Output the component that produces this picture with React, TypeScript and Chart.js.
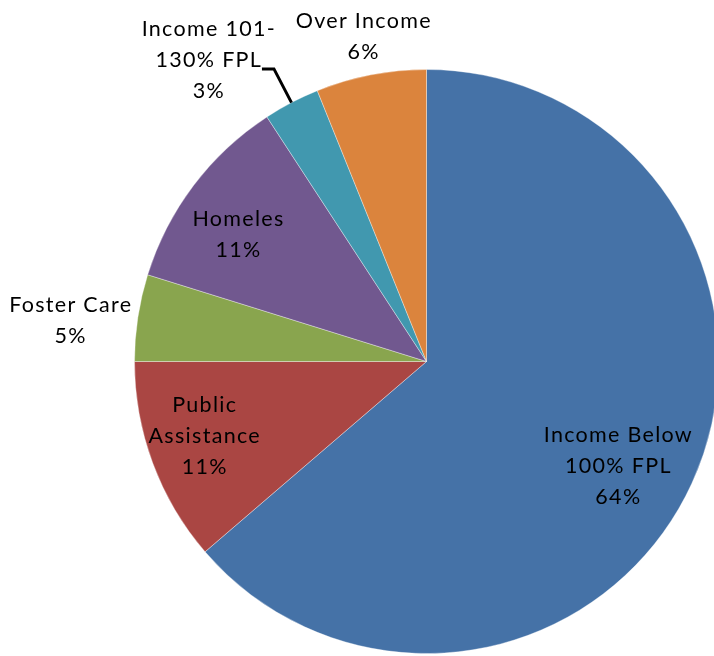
import React, { useEffect, useRef } from "react";
import { Chart, registerables } from "chart.js";

Chart.register(...registerables);

const categories: string[][] = [
  ["Income Below", "100% FPL"],
  ["Public", "Assistance"],
  ["Foster Care"],
  ["Homeles"],
  ["Income 101-", "130% FPL"],
  ["Over Income"],
];
const shares: number[] = [63.7, 11.3, 4.8, 11.0, 3.1, 6.1];
const colors: string[] = ["#4572A7", "#AA4643", "#89A54E", "#71588F", "#4198AF", "#DB843D"];

// label placement: angle (deg clockwise from top) and radius factor
const labelPlacement = [
  { a: 118.8, r: 0.746 },
  { a: 251.4, r: 0.805 },
  { a: 276.6, r: 1.23 },
  { a: 303.9, r: 0.78 },
  { a: 324.0, r: 1.274 },
  { a: 348.9, r: 1.134 },
];
const leaderIndex = 4;

const labelPlugin = {
  id: "pieLabels",
  afterDraw(chart: any) {
    const ctx = chart.ctx as CanvasRenderingContext2D;
    const meta = chart.getDatasetMeta(0);
    const first = meta.data[0];
    if (!first) return;
    const { x: cx, y: cy, outerRadius: R } = first.getProps(["x", "y", "outerRadius"], true);
    const total = shares.reduce((s, v) => s + v, 0);
    ctx.save();
    ctx.font = '21.5px Lato, "Open Sans", sans-serif';
    (ctx as any).letterSpacing = "1.3px";
    ctx.fillStyle = "#000";
    ctx.textAlign = "center";
    ctx.textBaseline = "middle";
    const lh = 31;
    categories.forEach((lines, i) => {
      const p = labelPlacement[i];
      const rad = (p.a * Math.PI) / 180;
      const x = cx + Math.sin(rad) * R * p.r;
      const y = cy - Math.cos(rad) * R * p.r;
      const all = [...lines, Math.round((shares[i] / total) * 100) + "%"];
      const y0 = y - ((all.length - 1) * lh) / 2;
      all.forEach((t, k) => ctx.fillText(t, x + 1, y0 + k * lh));
    });
    // leader line for small slice
    const arc = meta.data[leaderIndex];
    const { startAngle, endAngle } = arc.getProps(["startAngle", "endAngle"], true);
    const mid = (startAngle + endAngle) / 2;
    const ex = cx + Math.cos(mid) * R;
    const ey = cy + Math.sin(mid) * R;
    const bx = cx + Math.cos(mid) * R * 1.13;
    const by = cy + Math.sin(mid) * R * 1.13;
    ctx.strokeStyle = "#000";
    ctx.lineWidth = 3;
    ctx.beginPath();
    ctx.moveTo(bx - 12, by);
    ctx.lineTo(bx, by);
    ctx.lineTo(ex, ey);
    ctx.stroke();
    ctx.restore();
  },
};

export default function App() {
  const ref = useRef<HTMLCanvasElement | null>(null);
  useEffect(() => {
    if (!ref.current) return;
    const chart = new Chart(ref.current, {
      type: "pie",
      data: {
        labels: categories.map((l) => l.join(" ")),
        datasets: [
          {
            data: shares,
            backgroundColor: colors,
            borderColor: "rgba(255,255,255,0.35)",
            borderWidth: 1,
          },
        ],
      },
      options: {
        animation: false,
        responsive: false,
        layout: { padding: { left: 134, right: 21, top: 69, bottom: 2 } },
        plugins: { legend: { display: false }, tooltip: { enabled: false } },
      },
      plugins: [labelPlugin],
    });
    return () => chart.destroy();
  }, []);
  return (
    <div style={{ position: "absolute", left: 0, top: 0, width: 714, height: 656, overflow: "hidden", background: "#fff" }}>
      <canvas ref={ref} width={740} height={656} style={{ width: 740, height: 656, display: "block" }} />
    </div>
  );
}
